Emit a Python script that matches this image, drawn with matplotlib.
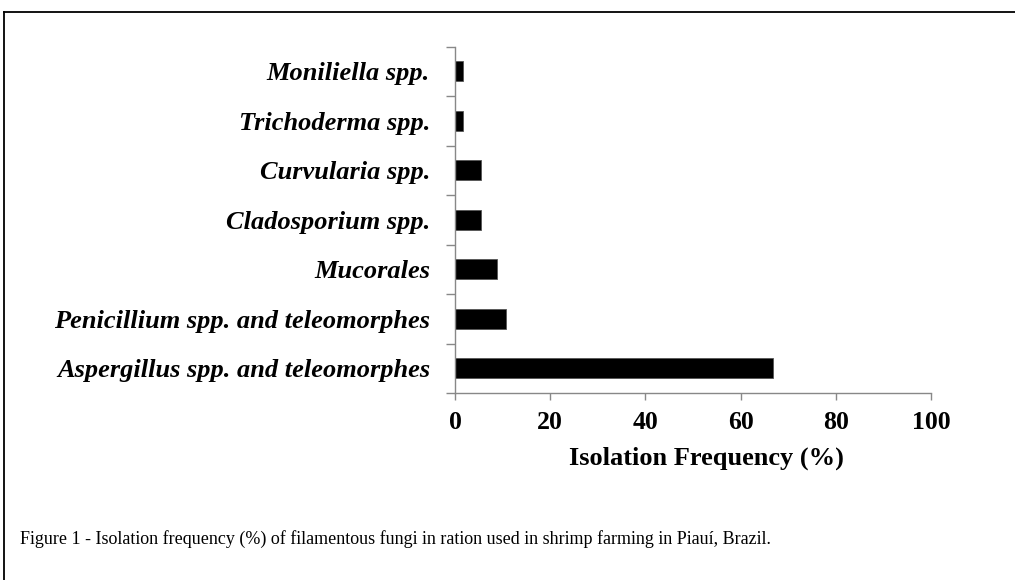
import matplotlib
matplotlib.use("Agg")
import matplotlib.pyplot as plt
from matplotlib.lines import Line2D
import numpy as np

categories = ["Aspergillus spp. and teleomorphes",
              "Penicillium spp. and teleomorphes",
              "Mucorales",
              "Cladosporium spp.",
              "Curvularia spp.",
              "Trichoderma spp.",
              "Moniliella spp."]
values = [66.9, 10.7, 8.9, 5.5, 5.5, 1.7, 1.7]
xticks = [0, 20, 40, 60, 80, 100]
xlabel = "Isolation Frequency (%)"
caption = ("Figure 1 - Isolation frequency (%) of filamentous fungi in ration "
           "used in shrimp farming in Piauí, Brazil.")

W, H = 1015, 580
fig = plt.figure(figsize=(W / 100, H / 100), dpi=100)
ax = fig.add_axes([455 / W, 1 - 393 / H, (931 - 455) / W, (393 - 46.5) / H])

y = np.arange(len(categories))
ax.barh(y, values, height=0.4, color="black", edgecolor="#555555", linewidth=0.6)

ax.set_xlim(0, 100)
ax.set_ylim(-0.5, len(categories) - 0.5)

grey = "#888888"
for s in ["top", "right"]:
    ax.spines[s].set_visible(False)
for s in ["left", "bottom"]:
    ax.spines[s].set_color(grey)
    ax.spines[s].set_linewidth(1.0)

serif = "Liberation Serif"
ax.set_yticks(y)
ax.set_yticklabels(categories, fontfamily=serif, fontweight="bold",
                   fontstyle="italic", fontsize=19)
ax.tick_params(axis="y", which="major", length=0, pad=18)
ax.set_yticks(np.arange(-0.5, len(categories), 1.0), minor=True)
ax.tick_params(axis="y", which="minor", length=6.5, color=grey, width=1.0)

ax.set_xticks(xticks)
ax.set_xticklabels([str(t) for t in xticks], fontfamily=serif,
                   fontweight="bold", fontsize=18.5)
ax.tick_params(axis="x", which="major", length=5, color=grey, width=1.0, pad=8)

ax.set_xlabel(xlabel, fontfamily=serif, fontweight="bold", fontsize=19)
ax.xaxis.set_label_coords((706 - 455) / (931 - 455), -(458 - 393) / (393 - 46.5))
ax.xaxis.label.set_va("center")

fig.text(20 / W, 1 - 539 / H, caption, fontfamily=serif, fontsize=13,
         ha="left", va="center")

fig.add_artist(Line2D([4 / W, 1], [1 - 12 / H, 1 - 12 / H], color="black",
                      linewidth=1.3, transform=fig.transFigure))
fig.add_artist(Line2D([4 / W, 4 / W], [0, 1 - 12 / H], color="black",
                      linewidth=1.3, transform=fig.transFigure))

fig.savefig("out.png", dpi=100)
